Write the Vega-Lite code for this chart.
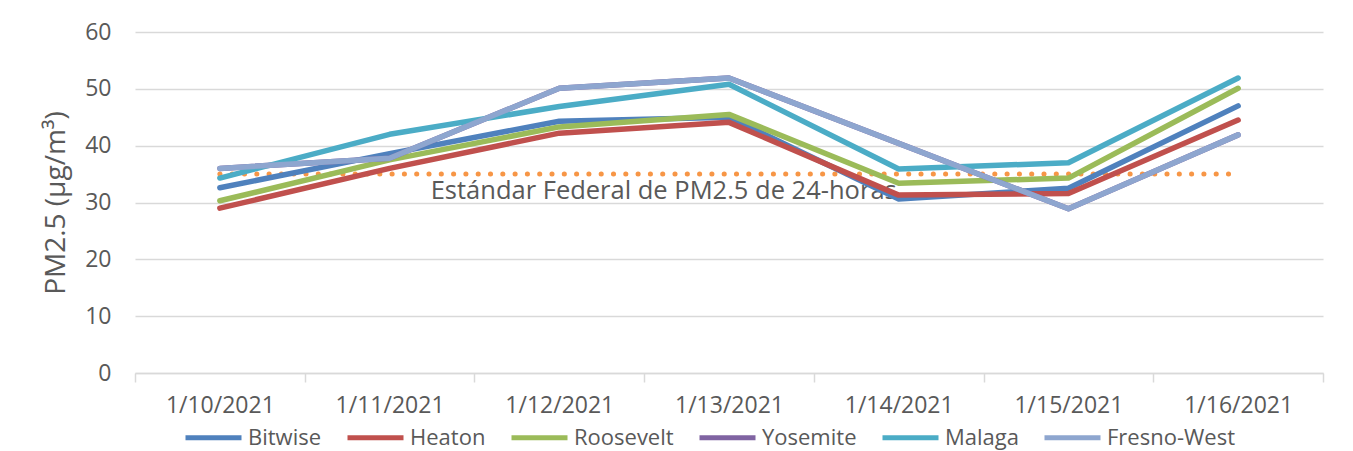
{
  "$schema": "https://vega.github.io/schema/vega-lite/v6.json",
  "autosize": {"type": "none"},
  "width": 1188,
  "height": 341,
  "padding": {"left": 135, "top": 32, "right": 30, "bottom": 78},
  "background": "white",
  "config": {
    "font": "Open Sans",
    "view": {"stroke": null},
    "axis": {
      "labelFont": "Open Sans",
      "titleFont": "Open Sans",
      "labelColor": "#595959",
      "titleColor": "#595959",
      "titleFontWeight": "normal"
    },
    "legend": {"labelFont": "Open Sans"}
  },
  "datasets": {
    "pm": [
      {"date": "1/10/2021", "site": "Bitwise", "pm25": 32.6},
      {"date": "1/11/2021", "site": "Bitwise", "pm25": 38.6},
      {"date": "1/12/2021", "site": "Bitwise", "pm25": 44.3},
      {"date": "1/13/2021", "site": "Bitwise", "pm25": 45.0},
      {"date": "1/14/2021", "site": "Bitwise", "pm25": 30.6},
      {"date": "1/15/2021", "site": "Bitwise", "pm25": 32.5},
      {"date": "1/16/2021", "site": "Bitwise", "pm25": 47.0},
      {"date": "1/10/2021", "site": "Heaton", "pm25": 29.0},
      {"date": "1/11/2021", "site": "Heaton", "pm25": 36.0},
      {"date": "1/12/2021", "site": "Heaton", "pm25": 42.2},
      {"date": "1/13/2021", "site": "Heaton", "pm25": 44.1},
      {"date": "1/14/2021", "site": "Heaton", "pm25": 31.3},
      {"date": "1/15/2021", "site": "Heaton", "pm25": 31.6},
      {"date": "1/16/2021", "site": "Heaton", "pm25": 44.5},
      {"date": "1/10/2021", "site": "Roosevelt", "pm25": 30.3},
      {"date": "1/11/2021", "site": "Roosevelt", "pm25": 37.5},
      {"date": "1/12/2021", "site": "Roosevelt", "pm25": 43.3},
      {"date": "1/13/2021", "site": "Roosevelt", "pm25": 45.5},
      {"date": "1/14/2021", "site": "Roosevelt", "pm25": 33.4},
      {"date": "1/15/2021", "site": "Roosevelt", "pm25": 34.3},
      {"date": "1/16/2021", "site": "Roosevelt", "pm25": 50.1},
      {"date": "1/10/2021", "site": "Yosemite", "pm25": 36.0},
      {"date": "1/11/2021", "site": "Yosemite", "pm25": 37.8},
      {"date": "1/12/2021", "site": "Yosemite", "pm25": 50.1},
      {"date": "1/13/2021", "site": "Yosemite", "pm25": 51.9},
      {"date": "1/14/2021", "site": "Yosemite", "pm25": 40.4},
      {"date": "1/15/2021", "site": "Yosemite", "pm25": 28.9},
      {"date": "1/16/2021", "site": "Yosemite", "pm25": 41.9},
      {"date": "1/10/2021", "site": "Malaga", "pm25": 34.3},
      {"date": "1/11/2021", "site": "Malaga", "pm25": 42.0},
      {"date": "1/12/2021", "site": "Malaga", "pm25": 46.9},
      {"date": "1/13/2021", "site": "Malaga", "pm25": 50.8},
      {"date": "1/14/2021", "site": "Malaga", "pm25": 35.9},
      {"date": "1/15/2021", "site": "Malaga", "pm25": 37.0},
      {"date": "1/16/2021", "site": "Malaga", "pm25": 51.9},
      {"date": "1/10/2021", "site": "Fresno-West", "pm25": 36.0},
      {"date": "1/11/2021", "site": "Fresno-West", "pm25": 37.8},
      {"date": "1/12/2021", "site": "Fresno-West", "pm25": 50.1},
      {"date": "1/13/2021", "site": "Fresno-West", "pm25": 51.9},
      {"date": "1/14/2021", "site": "Fresno-West", "pm25": 40.4},
      {"date": "1/15/2021", "site": "Fresno-West", "pm25": 28.9},
      {"date": "1/16/2021", "site": "Fresno-West", "pm25": 41.9}
    ],
    "std": [
      {"date": "1/10/2021", "pm25": 35},
      {"date": "1/11/2021", "pm25": 35},
      {"date": "1/12/2021", "pm25": 35},
      {"date": "1/13/2021", "pm25": 35},
      {"date": "1/14/2021", "pm25": 35},
      {"date": "1/15/2021", "pm25": 35},
      {"date": "1/16/2021", "pm25": 35}
    ],
    "lbl": [
      {"date": "1/14/2021", "pm25": 35, "label": "Estándar Federal de PM2.5 de 24-horas"}
    ]
  },
  "encoding": {
    "x": {
      "field": "date",
      "type": "ordinal",
      "sort": null,
      "scale": {"paddingInner": 0, "paddingOuter": 0},
      "axis": {
        "title": null,
        "labelAngle": 0,
        "labelFontSize": 23,
        "labelPadding": 12,
        "tickBand": "extent",
        "tickSize": 9,
        "tickColor": "#D9D9D9",
        "tickWidth": 1.5,
        "domainColor": "#D9D9D9",
        "domainWidth": 1.5,
        "grid": false
      }
    },
    "y": {
      "field": "pm25",
      "type": "quantitative",
      "scale": {"domain": [0, 60], "nice": false},
      "axis": {
        "title": "PM2.5 (µg/m³)",
        "titleFontSize": 28,
        "titlePadding": 14,
        "values": [0, 10, 20, 30, 40, 50, 60],
        "labelFontSize": 23,
        "labelPadding": 24,
        "ticks": false,
        "domain": false,
        "grid": true,
        "gridColor": "#D9D9D9",
        "gridWidth": 1.5
      }
    }
  },
  "layer": [
    {
      "data": {"name": "std"},
      "mark": {"type": "line", "color": "#F79646", "strokeWidth": 5, "strokeCap": "round", "strokeDash": [0.1, 12.2]},
      "encoding": {}
    },
    {
      "data": {"name": "lbl"},
      "mark": {"type": "text", "align": "right", "baseline": "middle", "dx": -2, "dy": 17, "fontSize": 25.5, "color": "#595959"},
      "encoding": {"text": {"field": "label"}}
    },
    {
      "data": {"name": "pm"},
      "mark": {"type": "line", "strokeWidth": 5.5, "strokeCap": "round", "strokeJoin": "round"},
      "encoding": {
        "color": {
          "field": "site",
          "type": "nominal",
          "sort": ["Bitwise", "Heaton", "Roosevelt", "Yosemite", "Malaga", "Fresno-West"],
          "scale": {
            "domain": ["Bitwise", "Heaton", "Roosevelt", "Yosemite", "Malaga", "Fresno-West"],
            "range": ["#4F81BD", "#C0504D", "#9BBB59", "#8064A2", "#4BACC6", "#8EA6CF"]
          },
          "legend": {
            "title": null,
            "orient": "none",
            "legendX": 48,
            "legendY": 375,
            "direction": "horizontal",
            "symbolType": "stroke",
            "symbolSize": 3136,
            "symbolStrokeWidth": 5,
            "labelFontSize": 22,
            "labelColor": "#595959",
            "labelOffset": 4,
            "columnPadding": 15,
            "padding": 0
          }
        }
      }
    }
  ]
}
